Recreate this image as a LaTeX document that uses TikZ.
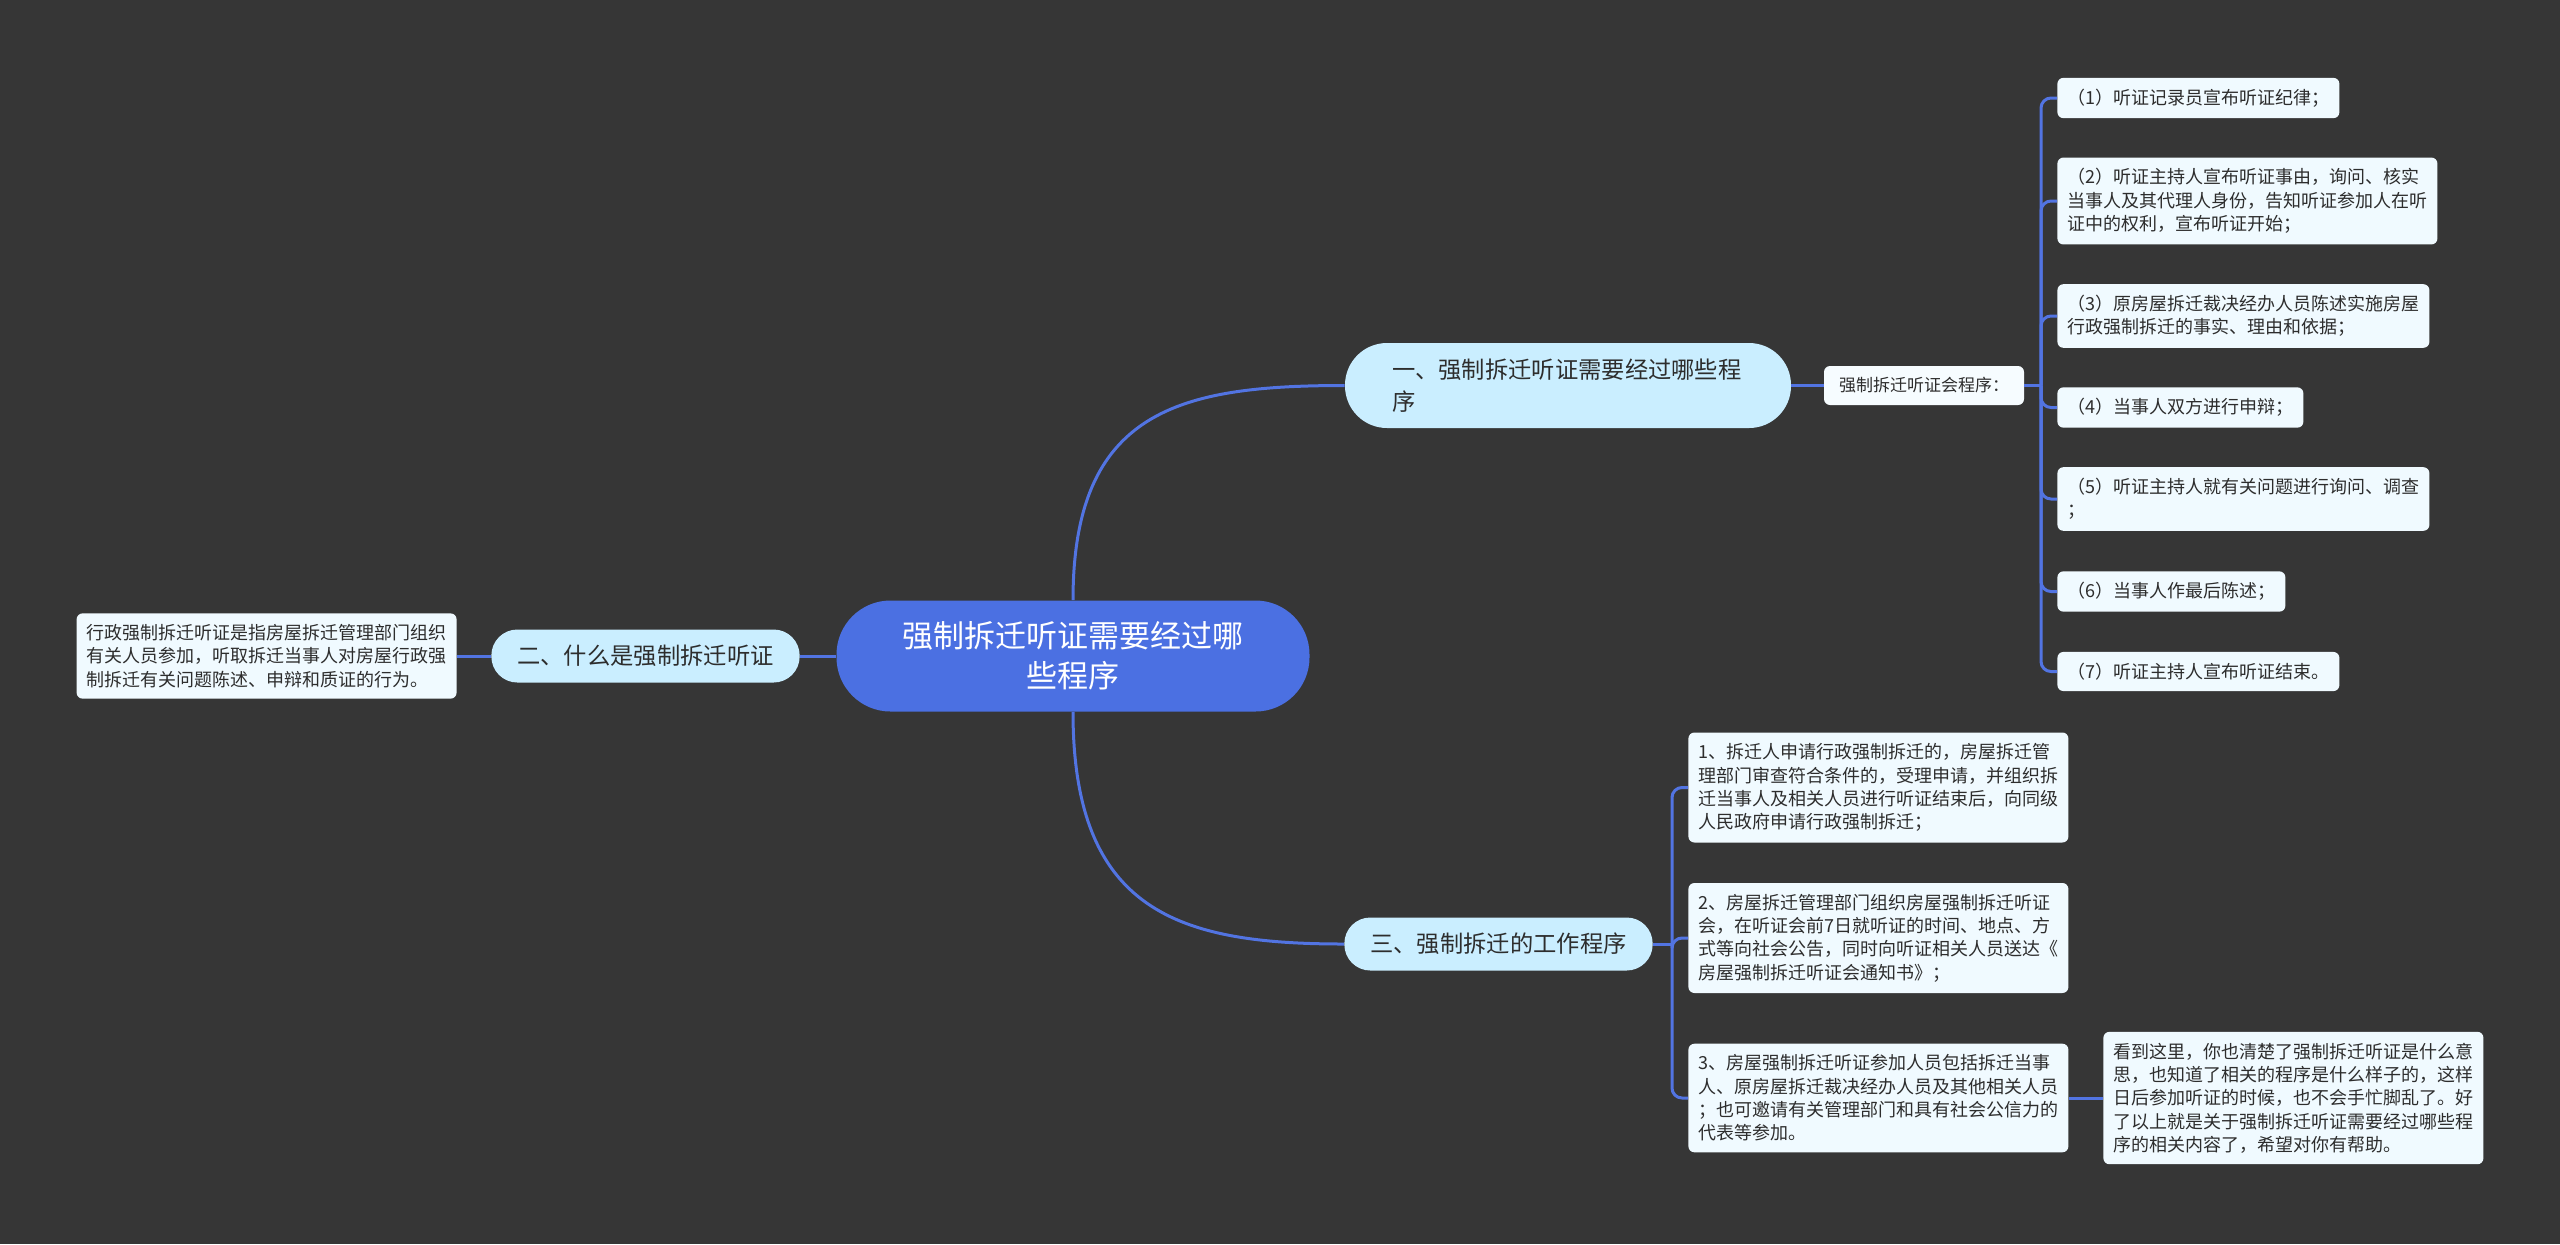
\documentclass[tikz,border=0pt]{standalone}
\usepackage{fontspec}
\newfontfamily\cjk{Noto Sans CJK SC}
\definecolor{bgdark}{RGB}{54,54,54}
\definecolor{rootblue}{RGB}{75,112,226}
\definecolor{linkblue}{RGB}{82,116,226}
\definecolor{branchfill}{RGB}{202,238,255}
\definecolor{leaffill}{RGB}{240,250,255}
\definecolor{inkdark}{RGB}{45,45,45}

\begin{document}
\begin{tikzpicture}[x=0.5pt, y=-0.5pt,
    font=\cjk,
    root/.style={fill=rootblue, text=white, rounded corners=27pt, inner sep=0pt,
      minimum width=236.5pt, minimum height=55.5pt, align=center,
      font=\cjk\fontsize{15.5}{20}\selectfont},
    branch/.style={fill=branchfill, text=inkdark, rounded corners=13pt, inner xsep=13pt,
      inner ysep=0pt, minimum height=26.5pt, font=\cjk\fontsize{11.65}{16}\selectfont},
    leaf/.style={fill=leaffill, text=inkdark, rounded corners=3pt, inner xsep=5pt,
      inner ysep=5.5pt, align=left, font=\cjk\fontsize{9}{11.65}\selectfont},
    link/.style={draw=linkblue, line width=1.5pt}]

  \fill[bgdark] (0,0) rectangle (2560,1244);
  \useasboundingbox (0,0) rectangle (2560,1244);

  % ---- centre ------------------------------------------------------------
  \node[root] (root) at (1073, 656) {强制拆迁听证需要经过哪\\些程序};

  % ---- left: what is it --------------------------------------------------
  \node[branch] (what) at (645.5, 656) {二、什么是强制拆迁听证};
  \node[leaf, anchor=east] (whatdef) at (457, 656)
    {行政强制拆迁听证是指房屋拆迁管理部门组织\\有关人员参加，听取拆迁当事人对房屋行政强\\制拆迁有关问题陈述、申辩和质证的行为。};
  \draw[link] (root.west) -- (what.east);
  \draw[link] (what.west) -- (whatdef.east);

  % ---- upper right: hearing steps ----------------------------------------
  \node[branch, rounded corners=21pt, minimum height=42.5pt, text width=176pt,
    inner xsep=23.5pt, align=left] (steps) at (1568, 385.5)
    {一、强制拆迁听证需要经过哪些程\\序};
  \node[leaf, fill=leaffill!60!white, inner xsep=7.5pt, minimum height=19.5pt,
    font=\cjk\fontsize{8.5}{11}\selectfont] (hear) at (1924, 385.5) {强制拆迁听证会程序：};
  \coordinate (sp1) at (2041, 385.5);

  \node[leaf, anchor=west] (p1) at (2057, 98)    {（1）听证记录员宣布听证纪律；};
  \node[leaf, anchor=west] (p2) at (2057, 201)
    {（2）听证主持人宣布听证事由，询问、核实\\当事人及其代理人身份，告知听证参加人在听\\证中的权利，宣布听证开始；};
  \node[leaf, anchor=west] (p3) at (2057, 316)
    {（3）原房屋拆迁裁决经办人员陈述实施房屋\\行政强制拆迁的事实、理由和依据；};
  \node[leaf, anchor=west] (p4) at (2057, 407.5) {（4）当事人双方进行申辩；};
  \node[leaf, anchor=west] (p5) at (2057, 499)
    {（5）听证主持人就有关问题进行询问、调查\\；};
  \node[leaf, anchor=west] (p6) at (2057, 591.5) {（6）当事人作最后陈述；};
  \node[leaf, anchor=west] (p7) at (2057, 671.5) {（7）听证主持人宣布听证结束。};

  \draw[link] (root.north) .. controls +(0,-190) and +(-165,0) .. (steps.west);
  \draw[link] (steps.east) -- (hear.west);
  \draw[link] (hear.east) -- (sp1);
  \foreach \i in {1,...,7}
    \draw[link, rounded corners=5pt] (sp1) |- (p\i.west);

  % ---- lower right: working procedure ------------------------------------
  \node[branch] (work) at (1498.5, 944) {三、强制拆迁的工作程序};
  \coordinate (sp2) at (1672, 944);

  \node[leaf, anchor=west] (w1) at (1688, 787.5)
    {1、拆迁人申请行政强制拆迁的，房屋拆迁管\\理部门审查符合条件的，受理申请，并组织拆\\迁当事人及相关人员进行听证结束后，向同级\\人民政府申请行政强制拆迁；};
  \node[leaf, anchor=west] (w2) at (1688, 938)
    {2、房屋拆迁管理部门组织房屋强制拆迁听证\\会，在听证会前7日就听证的时间、地点、方\\式等向社会公告，同时向听证相关人员送达《\\房屋强制拆迁听证会通知书》；};
  \node[leaf, anchor=west] (w3) at (1688, 1098)
    {3、房屋强制拆迁听证参加人员包括拆迁当事\\人、原房屋拆迁裁决经办人员及其他相关人员\\；也可邀请有关管理部门和具有社会公信力的\\代表等参加。};
  \node[leaf, anchor=west] (close) at (2103, 1098)
    {看到这里，你也清楚了强制拆迁听证是什么意\\思，也知道了相关的程序是什么样子的，这样\\日后参加听证的时候，也不会手忙脚乱了。好\\了以上就是关于强制拆迁听证需要经过哪些程\\序的相关内容了，希望对你有帮助。};

  \draw[link] (root.south) .. controls +(0,200) and +(-165,0) .. (work.west);
  \draw[link] (work.east) -- (sp2);
  \foreach \i in {1,2,3}
    \draw[link, rounded corners=5pt] (sp2) |- (w\i.west);
  \draw[link] (w3.east) -- (close.west);
\end{tikzpicture}
\end{document}
